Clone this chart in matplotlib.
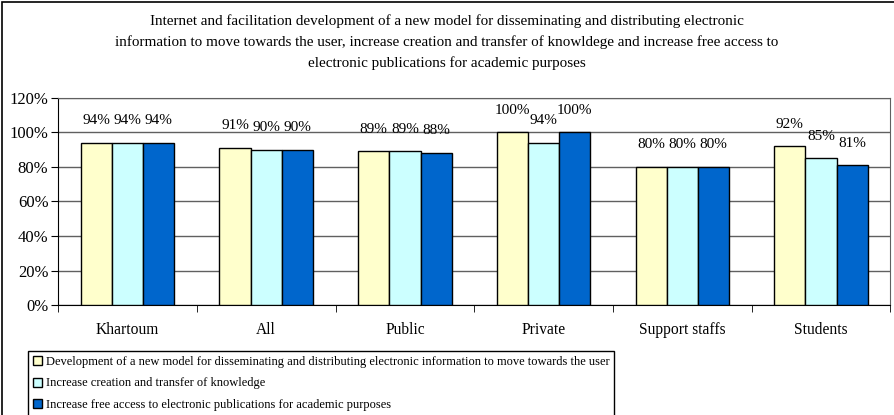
import numpy as np
import matplotlib.pyplot as plt
from matplotlib.patches import Rectangle

plt.rcParams['font.family'] = ['Liberation Serif', 'DejaVu Serif']

title = ("Internet and facilitation development of a new model for disseminating and distributing electronic\n"
         "information to move towards the user, increase creation and transfer of knowldege and increase free access to\n"
         "electronic publications for academic purposes")

groups = ["Khartoum", "All", "Public", "Private", "Support staffs", "Students"]
series_names = [
    "Development of a new model for disseminating and distributing electronic information to move towards the user",
    "Increase creation and transfer of knowledge",
    "Increase free access to electronic publications for academic purposes",
]
new_model = [94, 91, 89, 100, 80, 92]
knowledge = [94, 90, 89, 94, 80, 85]
free_access = [94, 90, 88, 100, 80, 81]
yticks = [0, 20, 40, 60, 80, 100, 120]

colors = ["#FFFFCC", "#CCFFFF", "#0066CC"]

fig = plt.figure(figsize=(8.94, 4.15), dpi=100)
# outer chart frame (left and top edges)
fig.add_artist(Rectangle((0.002, -0.1), 1.2, 1.095, transform=fig.transFigure,
                         fill=False, edgecolor='black', linewidth=1.2))

ax = fig.add_axes([0.065, 0.265, 0.931, 0.499])

x = np.arange(len(groups))
w = 0.225
for i, (vals, col, name) in enumerate(zip([new_model, knowledge, free_access], colors, series_names)):
    pos = x + (i - 1) * w
    ax.bar(pos, vals, width=w, color=col, edgecolor='black', linewidth=1.0, label=name, zorder=3)
    for px, v in zip(pos, vals):
        ax.annotate(f"{v}%", (px, v), xytext=(0, 16), textcoords='offset points',
                    ha='center', va='center', fontsize=11)

ax.set_ylim(0, 120)
ax.set_xlim(-0.5, len(groups) - 0.5)
ax.set_yticks(yticks)
ax.set_yticklabels([f"{t}%" for t in yticks], fontsize=12)
ax.yaxis.grid(True, color='#606060', linewidth=1.0, zorder=0)
ax.set_xticks(x)
ax.set_xticklabels(groups, fontsize=11.2)
ax.tick_params(axis='x', which='major', length=0, pad=12)
ax.set_xticks(np.arange(-0.5, len(groups)), minor=True)
ax.tick_params(axis='x', which='minor', length=5, direction='out')
ax.tick_params(axis='y', length=5, direction='out', pad=2)
for s in ['top', 'right']:
    ax.spines[s].set_color('#606060')
ax.spines['left'].set_color('black')
ax.spines['bottom'].set_color('black')

fig.text(0.5, 0.899, title, ha='center', va='center', fontsize=10.9, linespacing=1.68)

leg = fig.legend(loc='upper left', bbox_to_anchor=(0.031, 0.154), borderaxespad=0,
                 prop={'size': 9}, handlelength=0.75, handleheight=0.75, handletextpad=0.3,
                 labelspacing=0.75, borderpad=0.4, fancybox=False, framealpha=1)
leg.get_frame().set_edgecolor('black')
leg.get_frame().set_linewidth(1.0)

fig.savefig("out.png", dpi=100)
